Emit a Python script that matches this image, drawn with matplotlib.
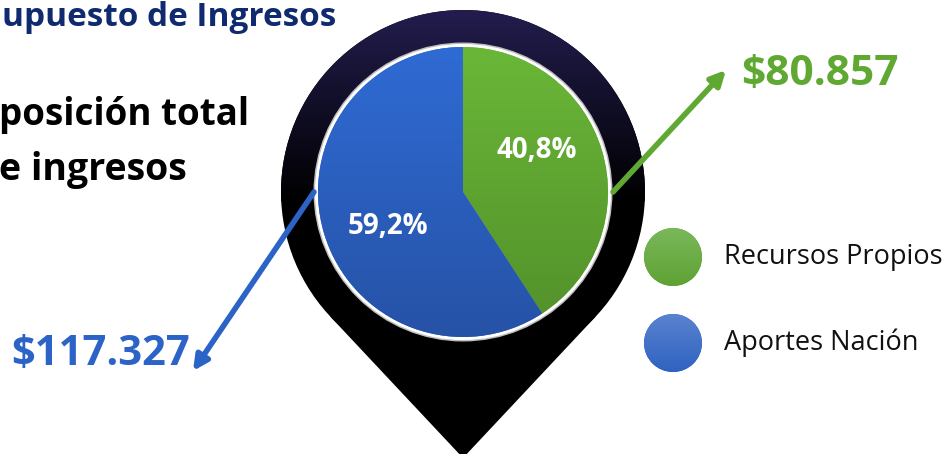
import numpy as np
import matplotlib
matplotlib.use("Agg")
import matplotlib.pyplot as plt
from matplotlib.patches import Circle, Polygon
from matplotlib.colors import LinearSegmentedColormap

# ---------------- data ----------------
categories = ['Recursos Propios', 'Aportes Nación']
values = [80857, 117327]
value_labels = ['$80.857', '$117.327']
title_fragment = 'upuesto de Ingresos'
subtitle_lines = ['posición total', 'e ingresos']

# ---------------- style ----------------
W, H = 948, 454
FONT = 'Open Sans'
GREEN_TOP, GREEN_BOT = '#6ab738', '#52902a'
BLUE_TOP, BLUE_BOT = '#2f6bd4', '#2652a6'
GREEN_TXT = '#5fa832'
BLUE_TXT = '#2b63c6'
NAVY = '#0f2a6e'

fig = plt.figure(figsize=(W / 100, H / 100), dpi=100)
ax = fig.add_axes([0, 0, 1, 1])
ax.axis('off')


def Y(y):
    return H - y


def grad_fill(patch, c_top, c_bot, y_top, y_bot, z):
    cmap = LinearSegmentedColormap.from_list('g', [c_top, c_bot])
    g = np.linspace(0, 1, 256).reshape(-1, 1)
    im = ax.imshow(g, cmap=cmap, extent=[0, W, Y(y_bot), Y(y_top)],
                   origin='upper', aspect='auto', zorder=z,
                   interpolation='bilinear')
    im.set_clip_path(patch)
    return im


# ---------------- map pin ----------------
cx, cy, R = 463, 192, 182
tip_y = 458
d = tip_y - cy
beta = np.arccos(R / d)
tl = (cx - R * np.sin(beta), Y(cy + R * np.cos(beta)))
tr = (cx + R * np.sin(beta), Y(cy + R * np.cos(beta)))
pin_poly = Polygon([tl, (cx, Y(tip_y)), tr, (cx, Y(cy))], closed=True,
                   facecolor='black', edgecolor='none', zorder=1)
ax.add_patch(pin_poly)
pin_circle = Circle((cx, Y(cy)), R, facecolor='black', edgecolor='none', zorder=1)
ax.add_patch(pin_circle)
grad_fill(pin_circle, '#221d4e', '#000000', cy - R, cy + 10, 1.5)

# ---------------- pie ----------------
pr = 145
ax.add_patch(Circle((cx, Y(cy)), pr + 4.5, facecolor='#bdbdbd', edgecolor='none', zorder=2))
ax.add_patch(Circle((cx, Y(cy)), pr + 3, facecolor='white', edgecolor='none', zorder=2.1))

wedges, texts, autotexts = ax.pie(
    values, colors=[GREEN_TOP, BLUE_TOP], startangle=90, counterclock=False,
    center=(cx, Y(cy)), radius=pr,
    autopct=lambda p: f'{p:.1f}%'.replace('.', ','),
    pctdistance=0.58,
    wedgeprops=dict(linewidth=0, edgecolor='none'),
    textprops=dict(color='white', fontsize=20, fontweight='bold', family=FONT))
for w, (ct, cb) in zip(wedges, [(GREEN_TOP, GREEN_BOT), (BLUE_TOP, BLUE_BOT)]):
    w.set_zorder(3)
    grad_fill(w, ct, cb, cy - pr, cy + pr, 3.2)
pct_offsets = [(74, -42), (-75, 35)]
for t, (dx, dy) in zip(autotexts, pct_offsets):
    t.set_position((cx + dx, Y(cy + dy)))
    t.set_ha('center')
    t.set_va('center')
    t.set_zorder(5)

# ---------------- arrows & values ----------------
ax.annotate('', xy=(726, Y(70)), xytext=(613, Y(192)),
            arrowprops=dict(arrowstyle='-|>', color=GREEN_TXT, lw=4,
                            mutation_scale=22, shrinkA=0, shrinkB=0), zorder=6)
ax.annotate('', xy=(193, Y(371)), xytext=(314, Y(192)),
            arrowprops=dict(arrowstyle='-|>', color=BLUE_TXT, lw=4,
                            mutation_scale=22, shrinkA=0, shrinkB=0), zorder=6)
ax.text(741, Y(74), value_labels[0], ha='left', va='center', fontsize=30.5,
        fontweight='bold', color=GREEN_TXT, family=FONT, zorder=6)
ax.text(11, Y(355), value_labels[1], ha='left', va='center', fontsize=30,
        fontweight='bold', color=BLUE_TXT, family=FONT, zorder=6)

# ---------------- titles ----------------
ax.text(2, Y(18), title_fragment, ha='left', va='center', fontsize=24,
        fontweight='bold', color=NAVY, family=FONT)
ax.text(-1, Y(115), subtitle_lines[0], ha='left', va='center', fontsize=26.5,
        fontweight='bold', color='black', family=FONT)
ax.text(-1, Y(170), subtitle_lines[1], ha='left', va='center', fontsize=27,
        fontweight='bold', color='black', family=FONT)

# ---------------- legend ----------------
leg_y = [257, 343]
leg_cols = [('#7ab85a', '#5ea233'), ('#5a83d0', '#2f62c0')]
for name, ly, (ct, cb) in zip(categories, leg_y, leg_cols):
    c = Circle((673, Y(ly)), 29, facecolor=cb, edgecolor='none', zorder=2)
    ax.add_patch(c)
    grad_fill(c, ct, cb, ly - 29, ly + 29, 2.2)
    ax.text(724, Y(ly), name, ha='left', va='center', fontsize=19.5,
            color='#111111', family=FONT, zorder=3)

ax.set_xlim(0, W)
ax.set_ylim(0, H)
ax.set_aspect('auto')
fig.savefig('out.png', dpi=100)
